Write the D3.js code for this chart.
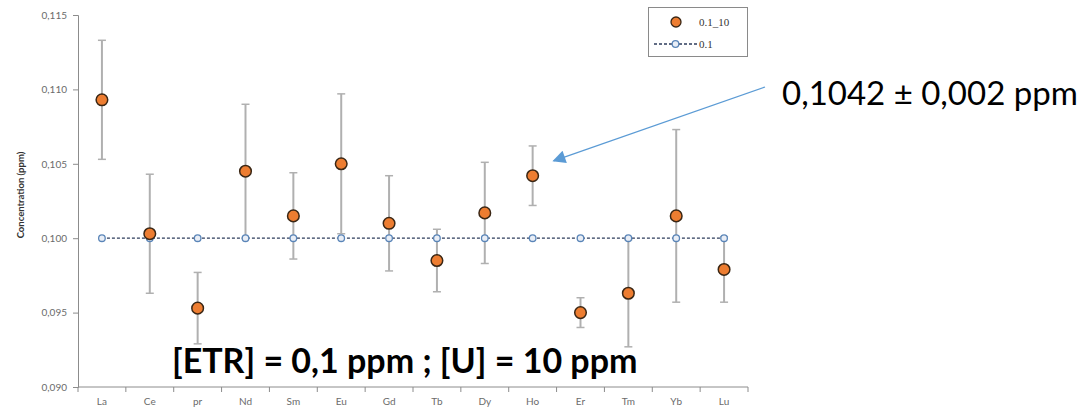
<!DOCTYPE html>
<html>
<head>
<meta charset="utf-8">
<script src="https://cdn.jsdelivr.net/npm/d3@7"></script>
<style>
  html, body { margin: 0; padding: 0; background: #fff; }
  svg { display: block; }
</style>
</head>
<body>
<svg id="chart" width="1091" height="410"></svg>
<script>
// Rare earth elements measured
const categories = ["La", "Ce", "pr", "Nd", "Sm", "Eu", "Gd", "Tb", "Dy", "Ho", "Er", "Tm", "Yb", "Lu"];
// Measured concentrations, series "0.1_10" (ppm)
const measured = [0.1093, 0.1003, 0.0953, 0.1045, 0.1015, 0.1050, 0.1010, 0.0985, 0.1017, 0.1042, 0.0950, 0.0963, 0.1015, 0.0979];
// Standard deviation of each measurement (ppm)
const errors = [0.0040, 0.0040, 0.0024, 0.0045, 0.0029, 0.0047, 0.0032, 0.0021, 0.0034, 0.0020, 0.0010, 0.0036, 0.0058, 0.0022];
// Nominal concentration, series "0.1" (ppm)
const nominal = [0.1, 0.1, 0.1, 0.1, 0.1, 0.1, 0.1, 0.1, 0.1, 0.1, 0.1, 0.1, 0.1, 0.1];
// Y axis ticks
const yTicks = [0.090, 0.095, 0.100, 0.105, 0.110, 0.115];
const seriesNames = ["0.1_10", "0.1"];

const svg = d3.select("#chart");
const frLocale = d3.formatLocale({ decimal: ",", thousands: " ", grouping: [3], currency: ["", " €"] });
const fmt = frLocale.format(".3f");

const x = d3.scaleBand().domain(categories).range([78, 748]);
const y = d3.scaleLinear().domain([0.090, 0.115]).range([387, 15]);

const axisColor = "#8c8c8c";
const tickText = "#6b6b6b";

// Y axis
const yAxis = svg.append("g")
  .attr("transform", "translate(78,0)")
  .call(d3.axisLeft(y).tickValues(yTicks).tickFormat(fmt).tickSize(5).tickPadding(6));
yAxis.select(".domain").attr("stroke", axisColor);
yAxis.selectAll(".tick line").attr("stroke", axisColor);
yAxis.selectAll(".tick text")
  .attr("fill", tickText)
  .style("font-family", "Lato, 'Open Sans', sans-serif")
  .style("font-size", "10px");

// X axis, ticks sit between categories
const xAxisG = svg.append("g").attr("transform", "translate(0,387)");
xAxisG.append("line")
  .attr("x1", x.range()[0]).attr("x2", x.range()[1])
  .attr("stroke", axisColor);
const bounds = categories.map(c => x(c)).concat([x.range()[1]]);
xAxisG.selectAll("line.tk").data(bounds).join("line")
  .attr("class", "tk")
  .attr("x1", d => d).attr("x2", d => d)
  .attr("y1", 0).attr("y2", 5)
  .attr("stroke", axisColor);
xAxisG.selectAll("text").data(categories).join("text")
  .attr("x", d => x(d) + x.bandwidth() / 2)
  .attr("y", 18)
  .attr("text-anchor", "middle")
  .attr("fill", tickText)
  .style("font-family", "Lato, 'Open Sans', sans-serif")
  .style("font-size", "10px")
  .text(d => d);

// Y axis title
svg.append("text")
  .attr("transform", "translate(24,195) rotate(-90)")
  .attr("text-anchor", "middle")
  .attr("fill", "#333")
  .style("font-family", "Lato, 'Open Sans', sans-serif")
  .style("font-size", "9.5px")
  .style("font-weight", "bold")
  .text("Concentration (ppm)");

const cx = c => x(c) + x.bandwidth() / 2;

// Nominal series: dashed line with small open markers
const line = d3.line().x((d, i) => cx(categories[i])).y(d => y(d));
svg.append("path")
  .datum(nominal)
  .attr("d", line)
  .attr("fill", "none")
  .attr("stroke", "#2e3d5c")
  .attr("stroke-width", 1.3)
  .attr("stroke-dasharray", "3,2");

// Error bars of the measured series
const eb = svg.append("g").attr("stroke", "#b0b0b0").attr("stroke-width", 2);
categories.forEach((c, i) => {
  const xc = cx(c);
  const top = y(measured[i] + errors[i]);
  const bot = y(measured[i] - errors[i]);
  eb.append("line").attr("x1", xc).attr("x2", xc).attr("y1", top).attr("y2", bot);
  eb.append("line").attr("x1", xc - 4).attr("x2", xc + 4).attr("y1", top).attr("y2", top).attr("stroke-width", 1.5);
  eb.append("line").attr("x1", xc - 4).attr("x2", xc + 4).attr("y1", bot).attr("y2", bot).attr("stroke-width", 1.5);
});

svg.append("g").selectAll("circle").data(nominal).join("circle")
  .attr("cx", (d, i) => cx(categories[i]))
  .attr("cy", d => y(d))
  .attr("r", 3.3)
  .attr("fill", "#e9eef6")
  .attr("stroke", "#5a85b8")
  .attr("stroke-width", 1.3);

// Measured series markers
svg.append("g").selectAll("circle").data(measured).join("circle")
  .attr("cx", (d, i) => cx(categories[i]))
  .attr("cy", d => y(d))
  .attr("r", 5.8)
  .attr("fill", "#ed7d31")
  .attr("stroke", "#3a2614")
  .attr("stroke-width", 1.5);

// Legend
const lg = svg.append("g");
lg.append("rect")
  .attr("x", 648.5).attr("y", 7.5).attr("width", 99).attr("height", 49)
  .attr("fill", "#fff").attr("stroke", "#8a8a8a").attr("stroke-width", 1);
lg.append("circle").attr("cx", 676).attr("cy", 22).attr("r", 5)
  .attr("fill", "#ed7d31").attr("stroke", "#3a2614").attr("stroke-width", 1.3);
lg.append("line").attr("x1", 654).attr("x2", 697).attr("y1", 44).attr("y2", 44)
  .attr("stroke", "#2e3d5c").attr("stroke-width", 1.3).attr("stroke-dasharray", "3,2");
lg.append("circle").attr("cx", 675.5).attr("cy", 44).attr("r", 3.3)
  .attr("fill", "#e9eef6").attr("stroke", "#5a85b8").attr("stroke-width", 1.3);
lg.selectAll("text").data(seriesNames).join("text")
  .attr("x", 699)
  .attr("y", (d, i) => 25.5 + i * 22)
  .attr("fill", "#333")
  .style("font-family", "'Liberation Serif', serif")
  .style("font-size", "11px")
  .text(d => d);

// Experimental conditions
svg.append("text")
  .attr("x", 172).attr("y", 373)
  .attr("fill", "#000")
  .style("font-family", "Lato, 'Open Sans', sans-serif")
  .style("font-size", "34px")
  .style("font-weight", "bold")
  .text("[ETR] = 0,1 ppm ; [U] = 10 ppm");

// Callout for Ho
const hoIdx = categories.indexOf("Ho");
const tipX = cx("Ho") + 21, tipY = y(measured[hoIdx] + errors[hoIdx] * 0.5);
const defs = svg.append("defs");
defs.append("marker")
  .attr("id", "arrowHead")
  .attr("viewBox", "0 0 10 10")
  .attr("refX", 9).attr("refY", 5)
  .attr("markerUnits", "userSpaceOnUse")
  .attr("orient", "auto")
  .attr("markerWidth", 16).attr("markerHeight", 13)
  .append("path").attr("d", "M0,0 L10,5 L0,10 Z").attr("fill", "#5b9bd5");
svg.append("line")
  .attr("x1", 765).attr("y1", 87)
  .attr("x2", tipX).attr("y2", tipY)
  .attr("stroke", "#5b9bd5").attr("stroke-width", 1.3)
  .attr("marker-end", "url(#arrowHead)");
svg.append("text")
  .attr("x", 782).attr("y", 105)
  .attr("fill", "#000")
  .style("font-family", "Lato, 'Open Sans', sans-serif")
  .style("font-size", "33px")
  .text(`${frLocale.format(".4f")(measured[hoIdx])} ± ${fmt(errors[hoIdx])} ppm`);
</script>
</body>
</html>
